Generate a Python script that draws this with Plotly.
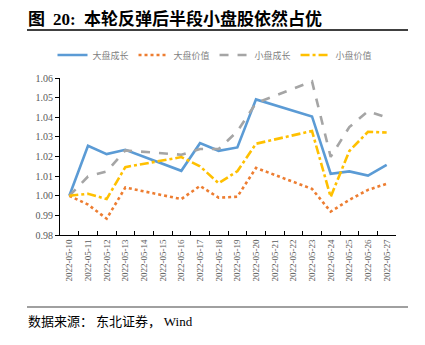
import plotly.graph_objects as go

all_dates = ["2022-05-10", "2022-05-11", "2022-05-12", "2022-05-13", "2022-05-14",
             "2022-05-15", "2022-05-16", "2022-05-17", "2022-05-18", "2022-05-19",
             "2022-05-20", "2022-05-21", "2022-05-22", "2022-05-23", "2022-05-24",
             "2022-05-25", "2022-05-26", "2022-05-27"]
trade_dates = ["2022-05-10", "2022-05-11", "2022-05-12", "2022-05-13", "2022-05-16",
               "2022-05-17", "2022-05-18", "2022-05-19", "2022-05-20", "2022-05-23",
               "2022-05-24", "2022-05-25", "2022-05-26", "2022-05-27"]

large_growth = [1.000, 1.0255, 1.0212, 1.0234, 1.0127, 1.0268, 1.0229, 1.0246, 1.0491,
                1.0404, 1.0112, 1.0124, 1.0103, 1.0157]
large_value = [1.000, 0.9955, 0.9883, 1.0042, 0.9983, 1.0050, 0.9990, 0.9995, 1.0142,
               1.0035, 0.9919, 0.9979, 1.0030, 1.0061]
small_growth = [1.000, 1.0098, 1.0124, 1.0231, 1.0209, 1.0238, 1.0238, 1.0328, 1.0472,
                1.0583, 1.0198, 1.0350, 1.0431, 1.0399]
small_value = [1.000, 1.0010, 0.9983, 1.0146, 1.0197, 1.0150, 1.0064, 1.0125, 1.0265,
               1.0330, 0.9994, 1.0228, 1.0326, 1.0322]

names = ["大盘成长", "大盘价值", "小盘成长", "小盘价值"]
colors = ["#5B9BD5", "#ED7D31", "#A5A5A5", "#FFC000"]
dashes = ["solid", "dot", "dash", "dashdot"]
series = [large_growth, large_value, small_growth, small_value]

fig = go.Figure()
for n, c, d, s in zip(names, colors, dashes, series):
    fig.add_trace(go.Scatter(x=trade_dates, y=s, name=n, mode="lines",
                             line=dict(color=c, width=2.6, dash=d)))

L, R, T, B = 60, 29, 78, 110
W, H = 425, 345
pw, ph = W - L - R, H - T - B
def px(x): return (x - L) / pw
def py(y): return (H - B - y) / ph

title_txt = ("<b>图 <span style='font-family:Liberation Serif'> 20: </span>"
             " 本轮反弹后半段小盘股依然占优</b>")
source_txt = "数据来源： 东北证券， <span style='font-family:Liberation Serif'>Wind</span>"

fig.update_layout(
    width=W, height=H,
    margin=dict(l=L, r=R, t=T, b=B),
    plot_bgcolor="white", paper_bgcolor="white",
    font=dict(family="Liberation Serif", color="#595959", size=10),
    showlegend=True,
    legend=dict(orientation="h", x=px(215), xanchor="center", y=py(55), yanchor="middle",
                font=dict(family="Noto Sans CJK SC", size=9, color="#7f7f7f"),
                itemwidth=30, tracegroupgap=0, bgcolor="rgba(0,0,0,0)"),
    xaxis=dict(type="category", categoryorder="array", categoryarray=all_dates,
               range=[-0.5, 17.5], tickangle=-90, showline=True, linecolor="black",
               linewidth=1, ticks="inside", ticklen=4, tickcolor="black",
               tickson="boundaries", showgrid=False, zeroline=False,
               tickfont=dict(family="Liberation Serif", size=9, color="#595959")),
    yaxis=dict(range=[0.98, 1.06], dtick=0.01, tickformat=".2f", showline=True,
               linecolor="black", linewidth=1, ticks="outside", ticklen=4,
               tickcolor="black", showgrid=False, zeroline=False,
               tickfont=dict(family="Liberation Serif", size=10, color="#595959")),
    annotations=[
        dict(text=title_txt, xref="paper", yref="paper",
             x=px(26), y=py(17), xanchor="left", yanchor="middle", showarrow=False,
             font=dict(family="Noto Sans CJK SC", size=17, color="black")),
        dict(text=source_txt, xref="paper", yref="paper",
             x=px(26), y=py(320), xanchor="left", yanchor="middle", showarrow=False,
             font=dict(family="Noto Sans CJK SC", size=13, color="black")),
    ],
    shapes=[
        dict(type="line", xref="paper", yref="paper", x0=px(27), x1=px(408),
             y0=py(30), y1=py(30), line=dict(color="black", width=1.5)),
        dict(type="line", xref="paper", yref="paper", x0=px(27), x1=px(408),
             y0=py(307), y1=py(307), line=dict(color="#808080", width=1.5)),
    ],
)

fig.write_html("out.html")
